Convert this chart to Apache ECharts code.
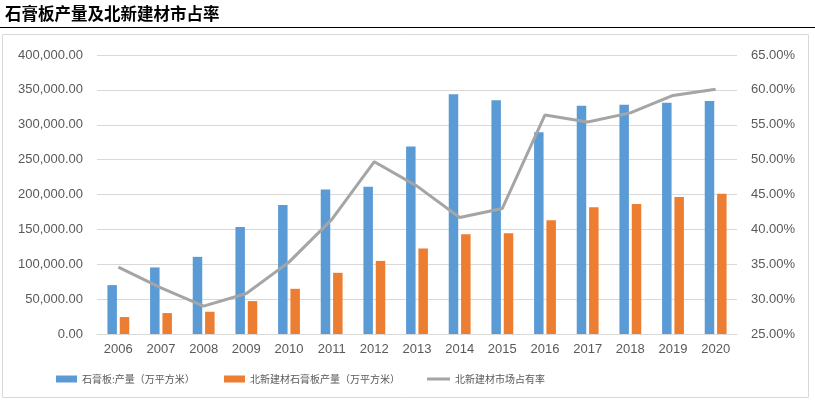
<!DOCTYPE html>
<html><head><meta charset="utf-8">
<script src="https://cdn.jsdelivr.net/npm/echarts@6/dist/echarts.min.js"></script>
<style>html,body{margin:0;padding:0;background:#fff}#c{width:815px;height:403px}</style>
</head><body><div id="c"></div>
<script>
const years = ['2006','2007','2008','2009','2010','2011','2012','2013','2014','2015','2016','2017','2018','2019','2020'];
const totalOutput = [70100,95400,110600,153500,185000,207000,211200,268900,343700,335100,289400,327100,328500,331400,334200];
const bnbmOutput = [24300,30000,31900,47200,64800,87700,104800,122600,143000,144500,163000,181600,186400,196400,201200];
const bnbmShare = [34.6,31.6,29.0,30.8,35.3,41.4,49.7,46.2,41.7,43.0,56.4,55.4,56.7,59.2,60.1];
const seriesNames = ['石膏板:产量（万平方米）','北新建材石膏板产量（万平方米）','北新建材市场占有率'];
const titleText = '石膏板产量及北新建材市占率';

const chart = echarts.init(document.getElementById('c'), null, {renderer:'canvas'});
const font = '"Noto Sans CJK SC", sans-serif';
const lblColor = '#595959';
const legText = {color:lblColor, fontSize:10, fontFamily:font};
chart.setOption({
  animation:false,
  graphic:[
    {type:'text', left:5, top:5, style:{text:titleText, font:'bold 16.5px "Noto Sans CJK SC"', fill:'#000'}},
    {type:'line', shape:{x1:0,y1:27.5,x2:815,y2:27.5}, style:{stroke:'#000', lineWidth:1.2}},
    {type:'rect', shape:{x:2.5,y:34.5,width:806,height:363}, style:{fill:'none', stroke:'#d9d9d9', lineWidth:1}}
  ],
  legend:[
    {data:[{name:seriesNames[0], icon:'rect'}], left:51, top:369, itemWidth:21, itemHeight:7, itemGap:2,
     textStyle:legText},
    {data:[{name:seriesNames[1], icon:'rect'}], left:219, top:369, itemWidth:21, itemHeight:7,
     textStyle:legText},
    {data:[{name:seriesNames[2], icon:'rect', itemStyle:{color:'#a5a5a5'}}], left:422, top:369, itemWidth:23, itemHeight:3,
     textStyle:legText}
  ],
  grid:{left:97, right:78, top:55, bottom:69},
  xAxis:{type:'category', data:years,
    axisLine:{lineStyle:{color:'#d9d9d9'}}, axisTick:{show:false},
    axisLabel:{color:lblColor, fontSize:13, fontFamily:'Arial, "Liberation Sans", sans-serif', margin:9}},
  yAxis:[
    {type:'value', min:0, max:400000, interval:50000,
     axisLabel:{color:lblColor, fontSize:13, fontFamily:'Arial, "Liberation Sans", sans-serif', margin:14,
       formatter:v=>v.toLocaleString('en-US',{minimumFractionDigits:2, maximumFractionDigits:2})},
     splitLine:{lineStyle:{color:'#d9d9d9'}}, axisLine:{show:false}, axisTick:{show:false}},
    {type:'value', min:25, max:65, interval:5,
     axisLabel:{color:lblColor, fontSize:13, fontFamily:'Arial, "Liberation Sans", sans-serif', margin:14,
       formatter:v=>v.toFixed(2)+'%'},
     splitLine:{show:false}, axisLine:{show:false}, axisTick:{show:false}}
  ],
  series:[
    {name:seriesNames[0], type:'bar', data:totalOutput, barWidth:9.5, barGap:'30%',
     itemStyle:{color:'#5b9bd5'}},
    {name:seriesNames[1], type:'bar', data:bnbmOutput, barWidth:9.5, barGap:'30%',
     itemStyle:{color:'#ed7d31'}},
    {name:seriesNames[2], type:'line', yAxisIndex:1, data:bnbmShare, symbol:'none',
     lineStyle:{color:'#a5a5a5', width:3}, itemStyle:{color:'#a5a5a5'}}
  ]
});
</script></body></html>
